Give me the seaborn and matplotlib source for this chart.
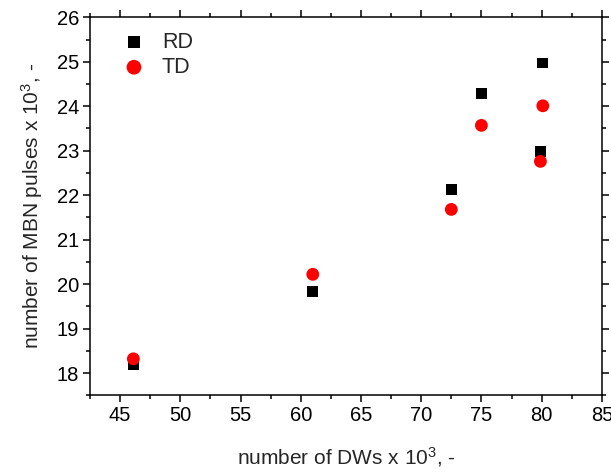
import matplotlib
matplotlib.use("Agg")
import matplotlib.pyplot as plt
from matplotlib.ticker import MultipleLocator
import seaborn as sns
import pandas as pd

# Domain-wall counts (x 10^3) and Barkhausen pulse counts (x 10^3)
dw_rd = [46.1, 61.0, 72.5, 75.0, 79.9, 80.1]
mbn_rd = [18.19, 19.84, 22.13, 24.28, 22.99, 24.97]
dw_td = [46.1, 61.0, 72.5, 75.0, 79.9, 80.1]
mbn_td = [18.32, 20.22, 21.68, 23.57, 22.76, 24.01]

sns.set_theme(style="ticks")
plt.rcParams["font.family"] = ["Liberation Sans", "DejaVu Sans"]
plt.rcParams["mathtext.default"] = "regular"

rd = pd.DataFrame({"dw": dw_rd, "mbn": mbn_rd})
td = pd.DataFrame({"dw": dw_td, "mbn": mbn_td})

fig = plt.figure(figsize=(6.11, 4.73), dpi=100)
ax = fig.add_axes([0.1473, 0.1643, 0.8377, 0.7991])

sns.scatterplot(data=rd, x="dw", y="mbn", marker="s", color="black",
                s=60, edgecolor="none", label="RD", ax=ax, zorder=3)
sns.scatterplot(data=td, x="dw", y="mbn", marker="o", color="#ff0000",
                s=85, edgecolor="none", label="TD", ax=ax, zorder=4)

ax.set_xlim(42.5, 85)
ax.set_ylim(17.5, 26)
ax.xaxis.set_major_locator(MultipleLocator(5))
ax.xaxis.set_minor_locator(MultipleLocator(2.5))
ax.yaxis.set_major_locator(MultipleLocator(1))
ax.yaxis.set_minor_locator(MultipleLocator(0.5))

for side in ["left", "right", "top", "bottom"]:
    ax.spines[side].set_visible(True)
    ax.spines[side].set_linewidth(1.1)
    ax.spines[side].set_color("black")

ax.tick_params(which="both", direction="out", top=True, right=True,
               labeltop=False, labelright=False, colors="black", width=1.1)
ax.tick_params(which="major", length=5, labelsize=14.5, pad=3)
ax.tick_params(which="minor", length=3)

ax.set_xlabel("number of DWs x 10$^3$, -", fontsize=15, labelpad=14)
ax.set_ylabel("number of MBN pulses x 10$^3$, -", fontsize=15, labelpad=8)

ax.legend(loc="upper left", bbox_to_anchor=(0.027, 0.985), frameon=False,
          fontsize=15.5, handletextpad=0.3, labelspacing=0.2, borderaxespad=0,
          markerscale=1.15)

fig.savefig("out.png", dpi=100)
